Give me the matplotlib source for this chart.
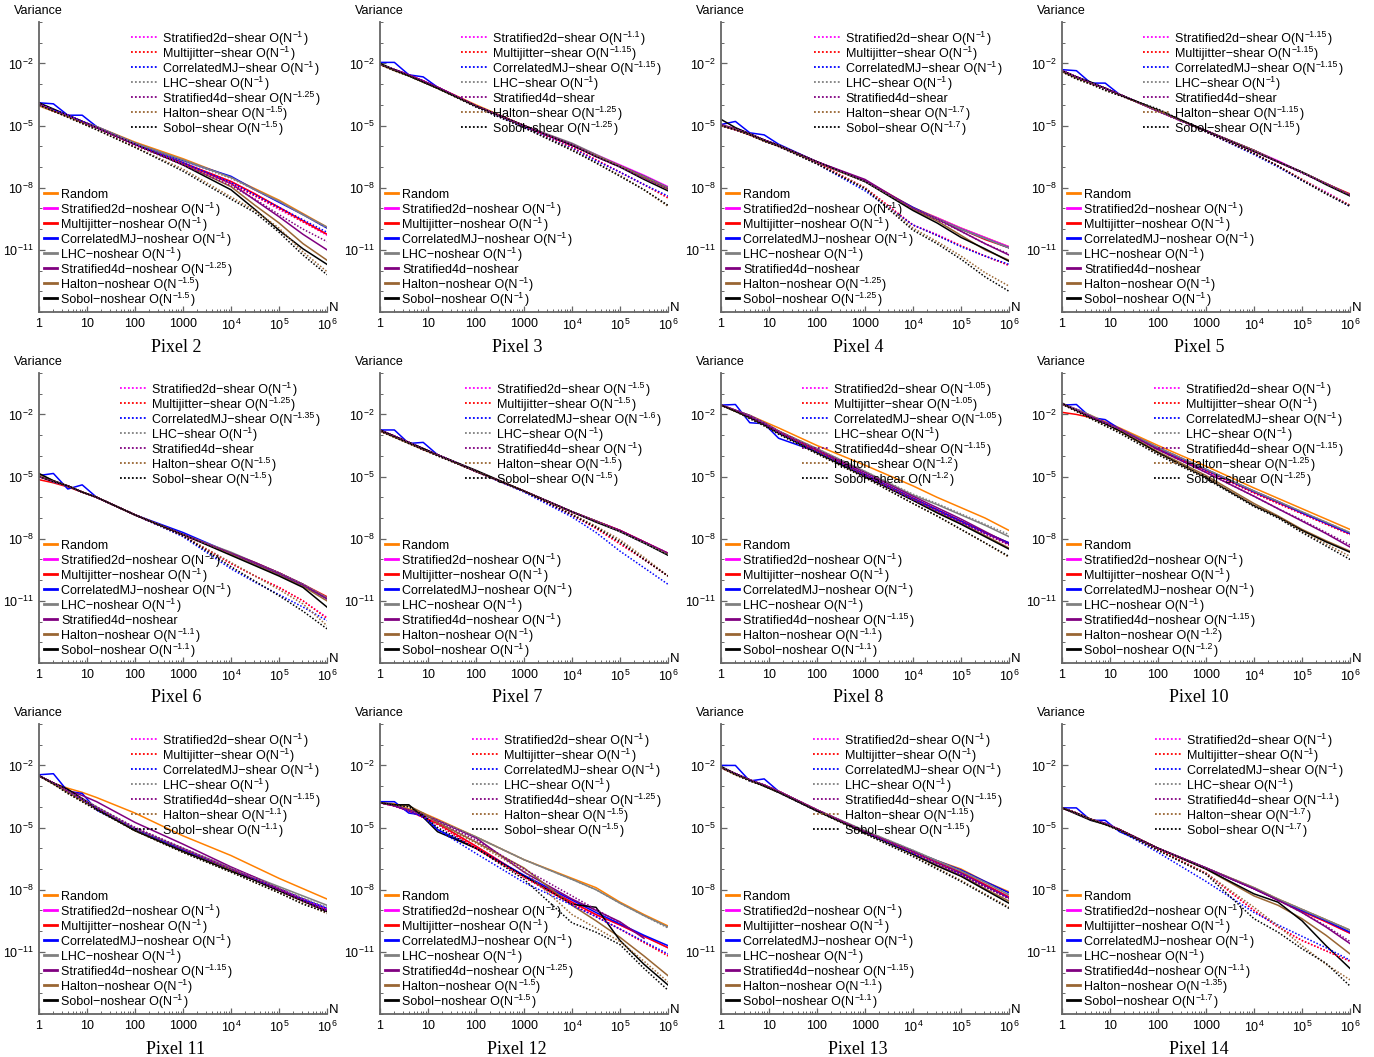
import numpy as np
import matplotlib
matplotlib.use("Agg")
import matplotlib.pyplot as plt
from matplotlib.lines import Line2D
from matplotlib.ticker import FixedLocator, NullFormatter

plt.rcParams['font.family'] = ['Liberation Sans', 'DejaVu Sans']
plt.rcParams['mathtext.fontset'] = 'custom'
plt.rcParams['mathtext.rm'] = 'Liberation Sans'
plt.rcParams['mathtext.it'] = 'Liberation Sans:italic'
plt.rcParams['mathtext.bf'] = 'Liberation Sans:bold'
plt.rcParams['mathtext.sf'] = 'Liberation Sans'

nan = np.nan

# ---------------- data ----------------
# sample counts N, given as log10(N)
log_n = [0, 0.3, 0.6, 0.9, 1.2, 2, 3, 4, 4.5, 5, 5.5, 6]

samplers = ["Stratified2d", "Multijitter", "CorrelatedMJ", "LHC", "Stratified4d", "Halton", "Sobol"]
sampler_colors = ["#FF00FF", "#FF0000", "#0000FF", "#808080", "#800080", "#996633", "#000000"]
random_color = "#FF8000"

x_tick_labels = ["1", "10", "100", "1000", r"$\mathdefault{10^{4}}$", r"$\mathdefault{10^{5}}$", r"$\mathdefault{10^{6}}$"]
y_tick_values = [1e-2, 1e-5, 1e-8, 1e-11]
y_tick_labels = [r"$\mathdefault{10^{-2}}$", r"$\mathdefault{10^{-5}}$", r"$\mathdefault{10^{-8}}$", r"$\mathdefault{10^{-11}}$"]

# log10(variance); noshear rows: Random, Stratified2d, Multijitter, CorrelatedMJ, LHC, Stratified4d, Halton, Sobol
# shear rows: Stratified2d, Multijitter, CorrelatedMJ, LHC, Stratified4d, Halton, Sobol
pixel2_noshear = [
    [-4.05, -4.3, -4.5, -4.8, -5.05, -5.8, -6.6, -7.5, -8.05, -8.6, -9.25, -9.9],
    [-3.95, -4.25, -4.5, -4.8, -5.1, -5.9, -6.8, -7.7, -8.3, -8.95, -9.6, -10.25],
    [-4.0, -4.3, -4.55, -4.85, -5.1, -5.9, -6.8, -7.7, -8.3, -8.95, -9.6, -10.25],
    [-3.9, -3.95, -4.5, -4.5, -5.05, -5.85, -6.7, -7.45, -8.1, -8.7, -9.3, -9.95],
    [-4.0, -4.25, -4.5, -4.8, -5.05, -5.85, -6.65, -7.5, -8.1, -8.65, -9.3, -9.9],
    [-3.95, -4.25, -4.5, -4.8, -5.1, -5.9, -6.8, -7.8, -8.6, -9.4, -10.25, -11.0],
    [-4.0, -4.3, -4.55, -4.85, -5.1, -5.9, -6.85, -7.95, -8.85, -9.7, -10.7, -11.5],
    [-3.9, -4.2, -4.5, -4.8, -5.1, -5.9, -6.9, -8.1, -9.05, -10.05, -10.95, -11.7],
]
pixel2_shear = [
    [-3.95, -4.25, -4.5, -4.8, -5.1, -5.9, -6.85, -7.8, -8.4, -9.05, -9.65, -10.3],
    [-4.0, -4.3, -4.55, -4.85, -5.1, -5.95, -6.85, -7.8, -8.4, -9.0, -9.65, -10.25],
    [-4.0, -4.25, -4.5, -4.8, -5.1, -5.9, -6.8, -7.75, -8.35, -8.95, -9.55, -10.15],
    [-4.05, -4.3, -4.55, -4.85, -5.1, -5.85, -6.7, -7.55, -8.1, -8.65, -9.3, -9.95],
    [-4.0, -4.3, -4.55, -4.85, -5.1, -5.95, -6.9, -7.9, -8.55, -9.3, -10.0, -10.6],
    [-4.05, -4.3, -4.6, -4.9, -5.2, -6.05, -7.1, -8.45, -9.1, -9.95, -11.1, -12.05],
    [-4.0, -4.3, -4.6, -4.9, -5.2, -6.05, -7.2, -8.55, -9.2, -10.15, -11.25, -12.2],
]
pixel2_noshear_rates = ["1", "1", "1", "1", "1.25", "1.5", "1.5"]
pixel2_shear_rates = ["1", "1", "1", "1", "1.25", "1.5", "1.5"]

pixel3_noshear = [
    [-2.05, -2.3, -2.55, -2.85, -3.15, -4.0, -5.0, -5.95, -6.45, -6.95, -7.5, -8.05],
    [-2.05, -2.3, -2.55, -2.85, -3.15, -4.05, -5.0, -5.9, -6.4, -6.9, -7.4, -7.95],
    [-2.05, -2.3, -2.55, -2.85, -3.15, -4.05, -5.0, -5.95, -6.45, -6.95, -7.45, -8.0],
    [-1.95, -1.95, -2.55, -2.65, -3.15, -4.05, -5.05, -5.95, -6.45, -6.95, -7.45, -8.0],
    [-2.05, -2.3, -2.6, -2.9, -3.2, -4.05, -5.0, -5.85, -6.4, -6.95, -7.45, -8.0],
    [-2.05, -2.3, -2.55, -2.85, -3.15, -4.05, -5.0, -5.9, -6.45, -6.95, -7.5, -8.05],
    [-2.05, -2.35, -2.6, -2.9, -3.2, -4.05, -5.0, -5.95, -6.45, -6.95, -7.5, -8.05],
    [-2.0, -2.3, -2.6, -2.9, -3.2, -4.05, -5.0, -5.95, -6.5, -7.0, -7.6, -8.15],
]
pixel3_shear = [
    [-2.05, -2.3, -2.55, -2.85, -3.15, -4.05, -5.05, -6.05, -6.65, -7.25, -7.85, -8.45],
    [-2.05, -2.3, -2.55, -2.85, -3.15, -4.05, -5.05, -6.05, -6.65, -7.25, -7.85, -8.5],
    [-2.05, -2.3, -2.55, -2.85, -3.15, -4.1, -5.1, -6.1, -6.7, -7.25, -7.85, -8.4],
    [-2.05, -2.3, -2.6, -2.9, -3.2, -4.05, -5.0, -5.9, -6.45, -6.95, -7.5, -8.0],
    [-2.05, -2.3, -2.55, -2.85, -3.15, -4.05, -5.0, -5.95, -6.5, -7.0, -7.55, -8.05],
    [-2.05, -2.35, -2.6, -2.9, -3.2, -4.1, -5.1, -6.15, -6.8, -7.4, -8.1, -8.9],
    [-2.05, -2.35, -2.6, -2.9, -3.2, -4.1, -5.1, -6.2, -6.8, -7.45, -8.1, -8.85],
]
pixel3_noshear_rates = ["1", "1", "1", "1", "", "1", "1"]
pixel3_shear_rates = ["1.1", "1.15", "1.15", "1", "", "1.25", "1.25"]

pixel4_noshear = [
    [-5.0, -5.15, -5.4, -5.7, -5.95, -6.75, -7.65, -8.95, -9.45, -9.95, -10.4, -10.85],
    [-5.0, -5.15, -5.4, -5.7, -5.95, -6.75, -7.65, -9.0, -9.45, -9.95, -10.4, -10.85],
    [-5.0, -5.2, -5.45, -5.7, -5.95, -6.75, -7.7, -9.0, -9.5, -10.0, -10.5, -10.9],
    [-4.95, -4.8, -5.35, -5.45, -5.9, -6.75, -7.7, -8.95, -9.5, -10.0, -10.45, -10.9],
    [-5.0, -5.15, -5.4, -5.7, -5.95, -6.75, -7.7, -9.0, -9.5, -10.0, -10.45, -10.9],
    [-4.95, -5.15, -5.4, -5.7, -5.95, -6.75, -7.6, -9.0, -9.5, -10.1, -10.7, -11.25],
    [-5.0, -5.2, -5.45, -5.75, -6.0, -6.8, -7.7, -9.05, -9.6, -10.3, -11.0, -11.5],
    [-4.7, -5.1, -5.4, -5.7, -5.95, -6.75, -7.7, -9.1, -9.7, -10.4, -10.95, -11.55],
]
pixel4_shear = [
    [-5.0, -5.2, -5.45, -5.7, -6.0, -6.8, -8.0, -9.8, -10.25, -10.8, -11.3, -11.75],
    [-5.0, -5.2, -5.45, -5.75, -6.0, -6.8, -8.0, -9.8, -10.3, -10.8, -11.3, -11.75],
    [-5.0, -5.2, -5.45, -5.75, -6.0, -6.85, -8.15, -9.8, -10.3, -10.85, -11.3, -11.7],
    [-5.0, -5.15, -5.4, -5.7, -5.95, -6.75, -7.7, -9.0, -9.5, -10.0, -10.45, -10.9],
    [-5.0, -5.15, -5.4, -5.7, -5.95, -6.75, -7.65, -9.0, -9.55, -10.1, -10.7, -11.2],
    [-5.0, -5.2, -5.45, -5.75, -6.0, -6.85, -8.0, -9.95, -10.6, -11.3, -12.1, -12.75],
    [-5.0, -5.2, -5.45, -5.75, -6.0, -6.85, -8.05, -10.05, -10.7, -11.45, -12.3, -13.0],
]
pixel4_noshear_rates = ["1", "1", "1", "1", "", "1.25", "1.25"]
pixel4_shear_rates = ["1", "1", "1", "1", "", "1.7", "1.7"]

pixel5_noshear = [
    [-2.35, -2.65, -2.95, -3.2, -3.5, -4.3, -5.25, -6.2, -6.75, -7.25, -7.8, -8.35],
    [-2.35, -2.65, -2.95, -3.2, -3.5, -4.3, -5.25, -6.2, -6.7, -7.25, -7.8, -8.35],
    [-2.35, -2.65, -2.95, -3.2, -3.5, -4.3, -5.25, -6.2, -6.75, -7.25, -7.8, -8.3],
    [-2.3, -2.35, -2.95, -2.95, -3.5, -4.3, -5.25, -6.2, -6.75, -7.25, -7.8, -8.35],
    [-2.35, -2.65, -2.95, -3.2, -3.5, -4.3, -5.25, -6.2, -6.75, -7.25, -7.8, -8.35],
    [-2.35, -2.65, -2.95, -3.2, -3.5, -4.3, -5.25, -6.2, -6.75, -7.25, -7.8, -8.35],
    [-2.4, -2.7, -2.95, -3.2, -3.5, -4.3, -5.25, -6.2, -6.75, -7.25, -7.8, -8.35],
    [-2.35, -2.65, -2.9, -3.2, -3.5, -4.25, -5.25, -6.25, -6.75, -7.25, -7.85, -8.4],
]
pixel5_shear = [
    [-2.35, -2.65, -2.95, -3.2, -3.5, -4.3, -5.3, -6.35, -6.95, -7.6, -8.2, -8.85],
    [-2.35, -2.65, -2.95, -3.2, -3.5, -4.3, -5.3, -6.35, -6.95, -7.6, -8.25, -8.85],
    [-2.35, -2.65, -2.95, -3.2, -3.5, -4.3, -5.3, -6.4, -7.0, -7.65, -8.25, -8.9],
    [-2.35, -2.65, -2.95, -3.2, -3.5, -4.3, -5.25, -6.2, -6.75, -7.25, -7.8, -8.35],
    [-2.35, -2.65, -2.95, -3.2, -3.5, -4.3, -5.25, -6.25, -6.75, -7.3, -7.8, -8.35],
    [-2.4, -2.75, -3.0, -3.3, -3.55, -4.25, -5.3, -6.35, -6.95, -7.6, -8.25, -8.85],
    [-2.4, -2.75, -3.0, -3.3, -3.55, -4.2, -5.3, -6.35, -6.95, -7.65, -8.3, -8.9],
]
pixel5_noshear_rates = ["1", "1", "1", "1", "", "1", "1"]
pixel5_shear_rates = ["1.15", "1.15", "1.15", "1", "", "1.15", "1.15"]

pixel6_noshear = [
    [-5.0, -5.25, -5.45, -5.75, -6.0, -6.85, -7.8, -8.7, -9.2, -9.65, -10.25, -10.85],
    [-5.0, -5.25, -5.45, -5.75, -6.0, -6.85, -7.8, -8.7, -9.2, -9.65, -10.25, -10.85],
    [-5.15, -5.3, -5.5, -5.75, -6.0, -6.85, -7.8, -8.7, -9.15, -9.65, -10.2, -10.8],
    [-4.95, -4.85, -5.6, -5.4, -6.0, -6.85, -7.7, -8.7, -9.2, -9.7, -10.25, -10.9],
    [-5.0, -5.25, -5.45, -5.75, -6.0, -6.85, -7.8, -8.65, -9.15, -9.65, -10.2, -10.85],
    [-5.0, -5.25, -5.45, -5.75, -6.0, -6.85, -7.8, -8.7, -9.15, -9.65, -10.2, -10.9],
    [-4.9, -5.2, -5.45, -5.75, -6.0, -6.85, -7.8, -8.75, -9.25, -9.75, -10.3, -11.0],
    [-4.85, -5.2, -5.45, -5.75, -6.0, -6.85, -7.8, -8.8, -9.3, -9.8, -10.35, -11.3],
]
pixel6_shear = [
    [-5.0, -5.25, -5.45, -5.75, -6.0, -6.85, -7.85, -9.2, -9.8, -10.35, -11.0, -11.8],
    [-5.0, -5.25, -5.45, -5.75, -6.0, -6.85, -7.85, -9.2, -9.8, -10.35, -11.0, -11.85],
    [-5.0, -5.25, -5.45, -5.75, -6.0, -6.85, -7.9, -9.45, -10.1, -10.7, -11.3, -11.95],
    [-5.0, -5.25, -5.45, -5.75, -6.0, -6.85, -7.8, -8.7, -9.2, -9.65, -10.2, -10.85],
    [-5.0, -5.25, -5.45, -5.75, -6.0, -6.85, -7.8, -8.7, -9.2, -9.7, -10.25, -10.9],
    [-5.0, -5.25, -5.45, -5.75, -6.0, -6.85, -7.85, -9.15, -9.8, -10.45, -11.15, -12.2],
    [-5.0, -5.25, -5.45, -5.75, -6.0, -6.85, -7.85, -9.35, -10.05, -10.75, -11.5, -12.35],
]
pixel6_noshear_rates = ["1", "1", "1", "1", "", "1.1", "1.1"]
pixel6_shear_rates = ["1", "1.25", "1.35", "1", "", "1.5", "1.5"]

pixel7_noshear = [
    [-2.75, -3.05, -3.35, -3.65, -3.95, -4.75, -5.7, -6.7, -7.15, -7.6, -8.15, -8.7],
    [-2.75, -3.05, -3.35, -3.65, -3.95, -4.75, -5.7, -6.7, -7.15, -7.6, -8.15, -8.7],
    [-2.8, -3.05, -3.35, -3.7, -3.95, -4.75, -5.7, -6.7, -7.15, -7.6, -8.15, -8.75],
    [-2.75, -2.75, -3.4, -3.35, -3.95, -4.75, -5.7, -6.7, -7.15, -7.65, -8.2, -8.75],
    [-2.8, -3.05, -3.35, -3.65, -3.95, -4.75, -5.7, -6.7, -7.15, -7.65, -8.2, -8.75],
    [-2.75, -3.05, -3.35, -3.65, -3.95, -4.75, -5.7, -6.7, -7.15, -7.6, -8.15, -8.7],
    [-2.8, -3.1, -3.4, -3.7, -3.95, -4.75, -5.7, -6.7, -7.15, -7.65, -8.2, -8.75],
    [-2.75, -3.05, -3.35, -3.65, -3.95, -4.7, -5.7, -6.7, -7.2, -7.65, -8.2, -8.8],
]
pixel7_shear = [
    [-2.8, -3.05, -3.35, -3.7, -3.95, -4.75, -5.7, -6.85, -7.5, -8.25, -9.0, -9.8],
    [-2.8, -3.05, -3.35, -3.7, -3.95, -4.75, -5.7, -6.85, -7.5, -8.25, -9.0, -9.8],
    [-2.8, -3.05, -3.35, -3.7, -3.95, -4.75, -5.75, -6.95, -7.7, -8.6, -9.4, -10.2],
    [-2.8, -3.05, -3.35, -3.7, -3.95, -4.75, -5.7, -6.7, -7.15, -7.65, -8.2, -8.75],
    [-2.8, -3.05, -3.35, -3.7, -3.95, -4.75, -5.7, -6.7, -7.15, -7.6, -8.15, -8.7],
    [-2.8, -3.1, -3.4, -3.7, -4.0, -4.75, -5.7, -6.8, -7.4, -8.05, -8.9, -9.8],
    [-2.8, -3.1, -3.4, -3.7, -4.0, -4.75, -5.7, -6.85, -7.45, -8.15, -9.0, -9.8],
]
pixel7_noshear_rates = ["1", "1", "1", "1", "1", "1", "1"]
pixel7_shear_rates = ["1.5", "1.5", "1.6", "1", "1", "1.5", "1.5"]

pixel8_noshear = [
    [-1.55, -1.8, -2.05, -2.35, -2.65, -3.5, -4.45, -5.45, -6.0, -6.5, -7.0, -7.6],
    [-1.55, -1.8, -2.1, -2.45, -2.85, -3.75, -4.9, -6.05, -6.6, -7.15, -7.7, -8.25],
    [-1.55, -1.8, -2.1, -2.45, -2.85, -3.75, -4.9, -6.05, -6.6, -7.15, -7.7, -8.2],
    [-1.55, -1.52, -2.4, -2.45, -3.15, -3.8, -4.9, -6.05, -6.6, -7.15, -7.7, -8.2],
    [-1.55, -1.8, -2.05, -2.4, -2.8, -3.65, -4.75, -5.9, -6.35, -6.85, -7.35, -7.9],
    [-1.55, -1.8, -2.05, -2.4, -2.8, -3.7, -4.8, -5.95, -6.5, -7.05, -7.65, -8.25],
    [-1.55, -1.85, -2.15, -2.5, -2.9, -3.8, -4.95, -6.1, -6.7, -7.25, -7.85, -8.45],
    [-1.55, -1.85, -2.15, -2.5, -2.9, -3.85, -5.0, -6.15, -6.75, -7.3, -7.9, -8.5],
]
pixel8_shear = [
    [-1.55, -1.8, -2.1, -2.45, -2.85, -3.75, -4.95, -6.1, -6.65, -7.2, -7.75, -8.3],
    [-1.55, -1.8, -2.1, -2.45, -2.85, -3.75, -4.95, -6.1, -6.65, -7.2, -7.75, -8.3],
    [-1.55, -1.8, -2.1, -2.45, -2.9, -3.8, -4.95, -6.1, -6.65, -7.2, -7.75, -8.25],
    [-1.55, -1.8, -2.05, -2.4, -2.8, -3.65, -4.75, -5.85, -6.3, -6.8, -7.3, -7.8],
    [-1.55, -1.8, -2.1, -2.45, -2.85, -3.75, -4.9, -6.05, -6.6, -7.15, -7.75, -8.3],
    [-1.55, -1.85, -2.2, -2.55, -2.95, -3.9, -5.05, -6.3, -6.9, -7.55, -8.2, -8.9],
    [-1.55, -1.85, -2.2, -2.55, -2.95, -3.9, -5.05, -6.3, -6.9, -7.55, -8.2, -8.85],
]
pixel8_noshear_rates = ["1", "1", "1", "1", "1.15", "1.1", "1.1"]
pixel8_shear_rates = ["1.05", "1.05", "1.05", "1", "1.15", "1.2", "1.2"]

pixel10_noshear = [
    [-1.5, -1.75, -2.05, -2.35, -2.65, -3.5, -4.5, -5.55, -6.05, -6.55, -7.05, -7.55],
    [-1.5, -1.75, -2.1, -2.4, -2.7, -3.65, -4.7, -5.75, -6.25, -6.75, -7.25, -7.75],
    [-1.9, -2.0, -2.15, -2.4, -2.7, -3.65, -4.7, -5.75, -6.25, -6.75, -7.25, -7.75],
    [-1.55, -1.52, -2.15, -2.25, -2.7, -3.6, -4.65, -5.7, -6.2, -6.75, -7.25, -7.75],
    [-1.5, -1.75, -2.05, -2.4, -2.7, -3.6, -4.65, -5.7, -6.2, -6.7, -7.2, -7.7],
    [-1.5, -1.8, -2.1, -2.4, -2.7, -3.7, -4.8, -5.95, -6.55, -7.15, -7.75, -8.4],
    [-1.5, -1.8, -2.15, -2.45, -2.75, -3.8, -4.95, -6.3, -6.9, -7.55, -8.1, -8.6],
    [-1.45, -1.8, -2.15, -2.45, -2.8, -3.85, -5.05, -6.4, -6.95, -7.6, -8.15, -8.65],
]
pixel10_shear = [
    [-1.5, -1.75, -2.1, -2.4, -2.7, -3.65, -4.7, -5.8, -6.3, -6.8, -7.3, -7.8],
    [-1.5, -1.75, -2.1, -2.4, -2.7, -3.65, -4.7, -5.8, -6.3, -6.8, -7.3, -7.8],
    [-1.5, -1.75, -2.1, -2.4, -2.7, -3.65, -4.7, -5.75, -6.25, -6.75, -7.25, -7.75],
    [-1.5, -1.75, -2.05, -2.4, -2.7, -3.6, -4.65, -5.7, -6.2, -6.7, -7.2, -7.7],
    [-1.5, -1.8, -2.1, -2.4, -2.7, -3.7, -4.8, -5.95, -6.55, -7.1, -7.7, -8.3],
    [-1.5, -1.85, -2.2, -2.55, -2.85, -3.9, -5.05, -6.4, -6.95, -7.65, -8.25, -8.85],
    [-1.5, -1.85, -2.2, -2.55, -2.9, -3.95, -5.1, -6.45, -7.0, -7.7, -8.35, -9.0],
]
pixel10_noshear_rates = ["1", "1", "1", "1", "1.15", "1.2", "1.2"]
pixel10_shear_rates = ["1", "1", "1", "1", "1.15", "1.25", "1.25"]

pixel11_noshear = [
    [-2.5, -2.85, -3.1, -3.3, -3.55, -4.3, -5.4, -6.35, -6.9, -7.45, -7.95, -8.45],
    [-2.5, -2.85, -3.25, -3.65, -4.05, -5.05, -6.05, -7.0, -7.5, -7.95, -8.45, -8.9],
    [-2.5, -2.85, -3.25, -3.65, -4.05, -5.1, -6.05, -7.0, -7.5, -7.95, -8.45, -8.95],
    [-2.45, -2.4, -3.25, -3.35, -4.15, -5.1, -6.1, -7.05, -7.5, -7.95, -8.45, -8.9],
    [-2.5, -2.85, -3.25, -3.6, -4.0, -5.05, -6.0, -6.95, -7.4, -7.85, -8.3, -8.75],
    [-2.5, -2.85, -3.2, -3.45, -3.75, -4.75, -5.8, -6.9, -7.4, -7.95, -8.5, -9.05],
    [-2.5, -2.9, -3.3, -3.7, -4.1, -5.15, -6.15, -7.05, -7.55, -8.05, -8.55, -9.05],
    [-2.5, -2.85, -3.15, -3.6, -4.1, -5.15, -6.15, -7.1, -7.55, -8.05, -8.55, -9.05],
]
pixel11_shear = [
    [-2.5, -2.85, -3.25, -3.65, -4.05, -5.0, -6.0, -6.95, -7.45, -7.95, -8.45, -8.95],
    [-2.5, -2.85, -3.25, -3.65, -4.05, -5.05, -6.05, -7.0, -7.5, -8.0, -8.5, -9.0],
    [-2.5, -2.85, -3.25, -3.65, -4.05, -5.05, -6.05, -7.0, -7.5, -8.0, -8.5, -9.0],
    [-2.5, -2.85, -3.25, -3.6, -4.0, -5.0, -6.0, -6.95, -7.45, -7.9, -8.4, -8.85],
    [-2.5, -2.85, -3.25, -3.6, -4.0, -5.0, -6.0, -7.0, -7.5, -8.0, -8.55, -9.05],
    [-2.5, -2.9, -3.35, -3.75, -4.15, -5.15, -6.2, -7.15, -7.65, -8.15, -8.65, -9.15],
    [-2.5, -2.9, -3.35, -3.75, -4.15, -5.15, -6.2, -7.15, -7.65, -8.15, -8.7, -9.1],
]
pixel11_noshear_rates = ["1", "1", "1", "1", "1.15", "1", "1"]
pixel11_shear_rates = ["1", "1", "1", "1", "1.15", "1.1", "1.1"]

pixel12_noshear = [
    [-3.8, -3.85, -4.1, -4.3, -4.6, -5.45, -6.55, -7.45, -7.9, -8.6, -9.2, -9.75],
    [-3.8, -3.95, -4.2, -4.5, -4.8, -5.9, -7.35, -8.6, -9.2, -9.7, -10.25, -10.8],
    [-3.8, -3.95, -4.2, -4.5, -4.8, -5.9, -7.35, -8.6, -9.2, -9.7, -10.25, -10.8],
    [-3.75, -3.75, -4.3, -4.4, -5.1, -6.0, -7.3, -8.5, -9.1, -9.65, -10.2, -10.7],
    [-3.8, -3.9, -4.15, -4.35, -4.65, -5.45, -6.55, -7.5, -8.0, -8.65, -9.25, -9.8],
    [-3.8, -3.95, -4.15, -4.35, -4.65, -5.5, -7.15, -8.45, -9.0, -9.55, -10.35, nan],
    [-3.8, -3.9, -3.95, -4.3, -4.75, -5.7, -6.95, -8.75, -9.5, -10.3, -11.2, -12.15],
    [-3.8, -3.9, -3.9, -4.5, -5.2, -6.0, -7.35, -8.7, -8.85, -10.45, -11.6, -12.6],
]
pixel12_shear = [
    [-3.8, -3.95, -4.2, -4.5, -4.85, -6.0, -7.4, -8.7, -9.3, -9.9, -10.55, -11.15],
    [-3.8, -3.95, -4.2, -4.5, -4.85, -6.0, -7.4, -8.7, -9.3, -9.9, -10.55, -11.2],
    [-3.8, -3.95, -4.2, -4.5, -5.1, -6.25, -7.65, -8.75, -9.3, -9.9, -10.5, -11.1],
    [-3.8, -3.9, -4.15, -4.35, -4.65, -5.45, -6.55, -7.5, -8.0, -8.65, -9.25, -9.85],
    [-3.8, -3.95, -4.15, -4.4, -4.7, -5.6, -7.0, -8.3, -8.95, -9.6, -10.3, nan],
    [-3.8, -3.9, -4.0, -4.35, -4.8, -5.75, -7.1, -9.2, -9.85, -10.5, -11.45, -12.45],
    [-3.8, -3.9, -4.0, -4.4, -5.0, -6.0, -7.5, -9.6, -10.05, -10.65, -11.8, -12.85],
]
pixel12_noshear_rates = ["1", "1", "1", "1", "1.25", "1.5", "1.5"]
pixel12_shear_rates = ["1", "1", "1", "1", "1.25", "1.5", "1.5"]

pixel13_noshear = [
    [-2.1, -2.4, -2.7, -2.95, -3.25, -4.15, -5.2, -6.15, -6.6, -7.0, -7.6, -8.1],
    [-2.1, -2.4, -2.7, -2.95, -3.25, -4.15, -5.2, -6.15, -6.65, -7.15, -7.75, -8.35],
    [-2.1, -2.4, -2.7, -2.95, -3.25, -4.15, -5.2, -6.15, -6.65, -7.15, -7.75, -8.35],
    [-2.0, -2.0, -2.75, -2.65, -3.25, -4.15, -5.2, -6.15, -6.6, -7.05, -7.6, -8.15],
    [-2.1, -2.4, -2.7, -2.95, -3.25, -4.15, -5.15, -6.1, -6.6, -7.1, -7.65, -8.25],
    [-2.1, -2.4, -2.7, -2.95, -3.25, -4.15, -5.2, -6.15, -6.7, -7.2, -7.8, -8.4],
    [-2.1, -2.45, -2.7, -3.0, -3.3, -4.2, -5.25, -6.25, -6.8, -7.3, -7.95, -8.55],
    [-2.05, -2.4, -2.7, -3.0, -3.3, -4.2, -5.25, -6.3, -6.85, -7.35, -8.0, -8.65],
]
pixel13_shear = [
    [-2.1, -2.4, -2.7, -2.95, -3.25, -4.15, -5.2, -6.2, -6.7, -7.25, -7.85, -8.4],
    [-2.1, -2.4, -2.7, -2.95, -3.25, -4.15, -5.2, -6.2, -6.7, -7.25, -7.85, -8.4],
    [-2.1, -2.4, -2.7, -2.95, -3.3, -4.2, -5.25, -6.25, -6.75, -7.25, -7.85, -8.4],
    [-2.1, -2.4, -2.7, -2.95, -3.25, -4.15, -5.15, -6.1, -6.6, -7.1, -7.65, -8.25],
    [-2.1, -2.4, -2.7, -2.95, -3.25, -4.15, -5.2, -6.2, -6.75, -7.3, -7.85, -8.45],
    [-2.1, -2.45, -2.75, -3.0, -3.3, -4.2, -5.3, -6.35, -6.95, -7.55, -8.2, -8.85],
    [-2.1, -2.45, -2.75, -3.0, -3.3, -4.2, -5.3, -6.4, -7.0, -7.6, -8.25, -8.9],
]
pixel13_noshear_rates = ["1", "1", "1", "1", "1.15", "1.1", "1.1"]
pixel13_shear_rates = ["1", "1", "1", "1", "1.15", "1.15", "1.15"]

pixel14_noshear = [
    [-4.05, -4.3, -4.6, -4.8, -5.1, -6.0, -6.95, -7.9, -8.45, -8.95, -9.45, -9.95],
    [-4.05, -4.3, -4.6, -4.8, -5.1, -6.0, -6.95, -7.95, -8.5, -9.0, -9.55, -10.1],
    [-4.05, -4.3, -4.6, -4.8, -5.1, -6.0, -6.95, -7.95, -8.5, -9.05, -9.55, -10.1],
    [-4.05, -4.05, -4.65, -4.65, -5.2, -6.0, -6.95, -7.95, -8.5, -9.0, -9.5, -10.05],
    [-4.05, -4.3, -4.6, -4.8, -5.1, -6.0, -6.95, -7.9, -8.45, -8.95, -9.45, -9.95],
    [-4.05, -4.3, -4.6, -4.8, -5.1, -6.0, -6.95, -7.95, -8.5, -9.1, -9.8, -10.6],
    [-4.05, -4.3, -4.6, -4.85, -5.1, -6.0, -7.0, -8.3, -8.75, -9.4, -10.2, -11.1],
    [-4.05, -4.35, -4.65, -4.85, -5.1, -6.0, -7.0, -8.2, -8.6, -9.5, -10.7, -11.8],
]
pixel14_shear = [
    [-4.05, -4.3, -4.6, -4.8, -5.1, -6.05, -7.2, -9.0, -9.8, -10.45, -10.95, -11.45],
    [-4.05, -4.3, -4.6, -4.8, -5.1, -6.05, -7.2, -9.0, -9.8, -10.45, -10.95, -11.45],
    [-4.05, -4.3, -4.6, -4.8, -5.15, -6.2, -7.6, -9.1, -9.7, -10.25, -10.8, -11.4],
    [-4.05, -4.3, -4.6, -4.8, -5.1, -6.0, -6.95, -7.9, -8.45, -8.95, -9.45, -9.95],
    [-4.05, -4.3, -4.6, -4.8, -5.1, -6.0, -6.95, -7.95, -8.5, -9.1, -9.75, -10.5],
    [-4.05, -4.3, -4.6, -4.85, -5.15, -6.1, -7.2, -8.85, -9.75, -10.7, -11.6, -12.35],
    [-4.05, -4.3, -4.6, -4.85, -5.15, -6.1, -7.25, -9.4, -10.05, -10.85, -11.55, -12.65],
]
pixel14_noshear_rates = ["1", "1", "1", "1", "1.1", "1.35", "1.7"]
pixel14_shear_rates = ["1", "1", "1", "1", "1.1", "1.7", "1.7"]

panels = [
    ("Pixel 2", pixel2_noshear, pixel2_shear, pixel2_noshear_rates, pixel2_shear_rates),
    ("Pixel 3", pixel3_noshear, pixel3_shear, pixel3_noshear_rates, pixel3_shear_rates),
    ("Pixel 4", pixel4_noshear, pixel4_shear, pixel4_noshear_rates, pixel4_shear_rates),
    ("Pixel 5", pixel5_noshear, pixel5_shear, pixel5_noshear_rates, pixel5_shear_rates),
    ("Pixel 6", pixel6_noshear, pixel6_shear, pixel6_noshear_rates, pixel6_shear_rates),
    ("Pixel 7", pixel7_noshear, pixel7_shear, pixel7_noshear_rates, pixel7_shear_rates),
    ("Pixel 8", pixel8_noshear, pixel8_shear, pixel8_noshear_rates, pixel8_shear_rates),
    ("Pixel 10", pixel10_noshear, pixel10_shear, pixel10_noshear_rates, pixel10_shear_rates),
    ("Pixel 11", pixel11_noshear, pixel11_shear, pixel11_noshear_rates, pixel11_shear_rates),
    ("Pixel 12", pixel12_noshear, pixel12_shear, pixel12_noshear_rates, pixel12_shear_rates),
    ("Pixel 13", pixel13_noshear, pixel13_shear, pixel13_noshear_rates, pixel13_shear_rates),
    ("Pixel 14", pixel14_noshear, pixel14_shear, pixel14_noshear_rates, pixel14_shear_rates),
]

# ---------------- layout ----------------
W, H = 1374, 1057
fig = plt.figure(figsize=(W / 100, H / 100), dpi=100)
renderer = fig.canvas.get_renderer()
col_left = [39, 380, 721, 1062]
row_top = [22, 373, 724]
ax_w, ax_h = 288, 290
axis_gray = "#666666"
DOT = (0, (1, 1.2))
ROW = 15.0          # legend row pitch in pixels
LEG_FS = 9
SUP_FS = 6.3
SUP_RAISE = 4.6     # pixels
PIECE_GAP = 0.8     # pixels


def draw_key(ax, entries, first_row_px, key_len, gap, text_left_px=None, text_right_px=None):
    """Legend rows at a fixed pitch; entries = (name, rate, color, linestyle, lw).
    The rate is written as a raised exponent: name O(N^-rate)."""
    rows = []
    for i, (name, rate, col, ls, lw) in enumerate(entries):
        yc = first_row_px + ROW * i
        yb = yc + 4.5
        parts = [(name + (" O(N" if rate else ""), LEG_FS, yb)]
        if rate:
            parts.append(("\u2212" + rate, SUP_FS, yb - SUP_RAISE))
            parts.append((")", LEG_FS, yb))
        objs = []
        for s, fs, y in parts:
            o = ax.text(0, 1 - y / ax_h, s, transform=ax.transAxes, fontsize=fs,
                        ha="left", va="baseline", zorder=6)
            objs.append((o, o.get_window_extent(renderer).width))
        total = sum(w for _, w in objs) + PIECE_GAP * (len(objs) - 1)
        rows.append((objs, total, yc, col, ls, lw))
    if text_left_px is None:
        text_left_px = text_right_px - max(r[1] for r in rows)
    for objs, total, yc, col, ls, lw in rows:
        x = text_left_px
        for o, w in objs:
            o.set_x(x / ax_w)
            x += w + PIECE_GAP
        x1 = (text_left_px - gap) / ax_w
        x0 = (text_left_px - gap - key_len) / ax_w
        ax.add_line(Line2D([x0, x1], [1 - yc / ax_h] * 2, transform=ax.transAxes,
                           color=col, linestyle=ls, lw=lw, clip_on=False, zorder=6))


xs = 10.0 ** np.array(log_n)

for idx, (title, noshear, shear, ns_rates, sh_rates) in enumerate(panels):
    r, c = divmod(idx, 4)
    l, t = col_left[c], row_top[r]
    ax = fig.add_axes([l / W, 1 - (t + ax_h) / H, ax_w / W, ax_h / H])
    ax.patch.set_alpha(0)
    ax.set_xscale("log")
    ax.set_yscale("log")

    ns_colors = [random_color] + sampler_colors
    ns_names = ["Random"] + [s + "\u2212noshear" for s in samplers]
    ns_rate_all = [""] + list(ns_rates)
    for row, col in zip(noshear, ns_colors):
        ax.plot(xs, 10.0 ** np.array(row), color=col, lw=1.1, solid_joinstyle="round")

    sh_names = [s + "\u2212shear" for s in samplers]
    for row, col in zip(shear, sampler_colors):
        ax.plot(xs, 10.0 ** np.array(row), color=col, lw=1.1, linestyle=DOT)

    ax.set_xlim(1, 1e6)
    ax.set_ylim(1e-14, 1)
    for s in ("top", "right"):
        ax.spines[s].set_visible(False)
    for s in ("left", "bottom"):
        ax.spines[s].set_color(axis_gray)
        ax.spines[s].set_linewidth(1.3)

    ax.xaxis.set_major_locator(FixedLocator(10.0 ** np.arange(0, 7)))
    ax.set_xticklabels(x_tick_labels)
    ax.xaxis.set_minor_locator(FixedLocator([m * 10.0 ** k for k in range(6) for m in range(2, 10)]))
    ax.xaxis.set_minor_formatter(NullFormatter())
    ax.yaxis.set_major_locator(FixedLocator(y_tick_values))
    ax.set_yticklabels(y_tick_labels)
    ax.yaxis.set_minor_locator(FixedLocator([10.0 ** k for k in range(-14, 1) if k not in (-2, -5, -8, -11)]))
    ax.yaxis.set_minor_formatter(NullFormatter())
    ax.tick_params(which="both", direction="in", color=axis_gray, labelsize=9, labelcolor="black")
    ax.tick_params(which="major", length=4.5, width=0.9)
    ax.tick_params(which="minor", length=2.5, width=0.7)
    ax.tick_params(axis="x", which="major", pad=4)
    ax.tick_params(axis="y", which="major", pad=4)

    # keys: shear (dotted) top right, noshear (solid) bottom left
    sh_entries = [(n, rr, col, DOT, 1.3) for n, rr, col in zip(sh_names, sh_rates, sampler_colors)]
    draw_key(ax, sh_entries, first_row_px=15.3, key_len=27, gap=5, text_right_px=281)
    ns_entries = [(n, rr, col, "-", 2.0) for n, rr, col in zip(ns_names, ns_rate_all, ns_colors)]
    draw_key(ax, ns_entries, first_row_px=171.3, key_len=13, gap=4, text_left_px=22)

    fig.text((l - 25) / W, 1 - (t - 11) / H, "Variance", ha="left", va="center", fontsize=9)
    fig.text((l + ax_w + 2) / W, 1 - (t + ax_h - 4) / H, "N", ha="left", va="center", fontsize=9.5)
    fig.text((l + ax_w / 2 - 7) / W, 1 - (t + ax_h + 35) / H, title, ha="center", va="center",
             fontsize=13, family=["Liberation Serif", "DejaVu Serif"])

fig.savefig("out.png", dpi=100)
